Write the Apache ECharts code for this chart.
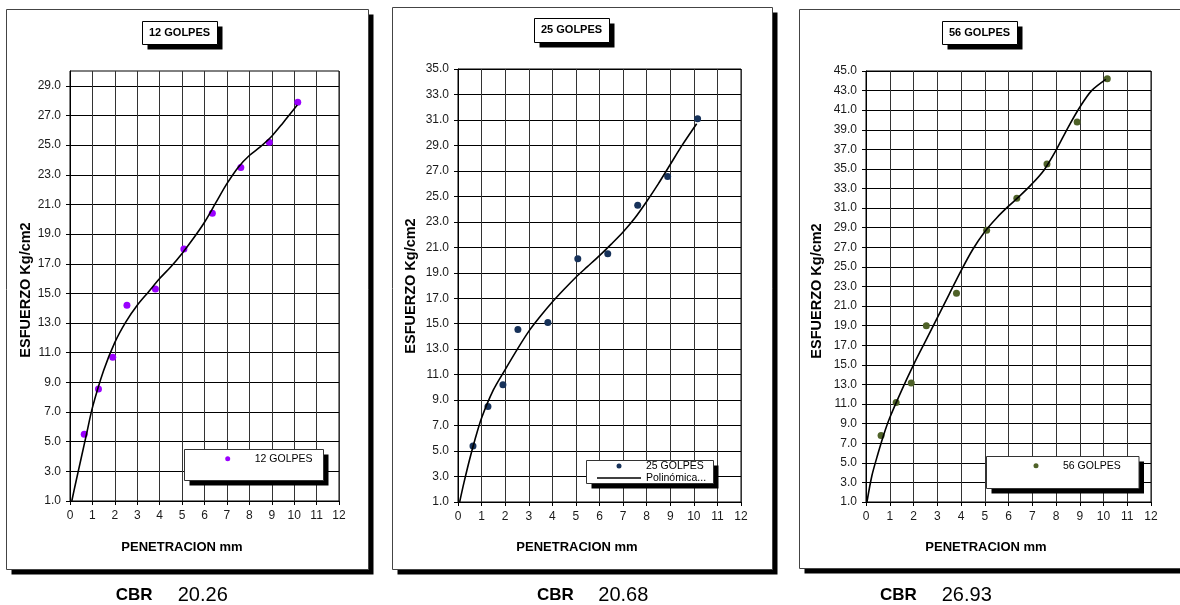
<!DOCTYPE html>
<html>
<head>
<meta charset="utf-8">
<title>CBR - Esfuerzo vs Penetracion</title>
<script src="https://cdn.jsdelivr.net/npm/echarts@6/dist/echarts.min.js"></script>
<style>
  html, body { margin: 0; padding: 0; background: #fff; }
  #chart { width: 1180px; height: 605px; }
</style>
</head>
<body>
<div id="chart"></div>
<script>
// penetracion (mm) de cada lectura
const penetracion = [0.635, 1.27, 1.905, 2.54, 3.81, 5.08, 6.35, 7.62, 8.89, 10.16]

// esfuerzo (kg/cm2) por numero de golpes
const esfuerzo12 = [5.5, 8.55, 10.7, 14.2, 15.3, 18.0, 20.4, 23.5, 25.2, 27.9]
const esfuerzo25 = [5.4, 8.5, 10.2, 14.55, 15.1, 20.1, 20.5, 24.3, 26.55, 31.1]
const esfuerzo56 = [7.8, 11.15, 13.15, 19.0, 22.3, 28.75, 32.0, 35.5, 39.8, 44.2]

// linea de tendencia polinomica
const curva12X = [0.08, 0.25, 0.5, 0.75, 1.0, 1.5, 2.0, 2.5, 3.0, 3.5, 4.0, 4.5, 5.0, 5.5, 6.0, 6.5, 7.0, 7.5, 8.0, 8.5, 9.0, 9.5, 10.14]
const curva12Y = [1.0, 2.2, 3.9, 5.6, 7.3, 9.8, 11.7, 13.1, 14.2, 15.1, 16.0, 16.8, 17.7, 18.7, 19.8, 21.1, 22.4, 23.5, 24.3, 24.9, 25.6, 26.5, 27.7]
const curva25X = [0.07, 0.25, 0.5, 0.75, 1.0, 1.5, 2.0, 2.5, 3.0, 3.5, 4.0, 4.5, 5.0, 5.5, 6.0, 6.5, 7.0, 7.5, 8.0, 8.5, 9.0, 9.5, 10.12]
const curva25Y = [1.0, 2.5, 4.4, 6.1, 7.6, 9.8, 11.4, 12.95, 14.4, 15.6, 16.7, 17.7, 18.65, 19.5, 20.35, 21.25, 22.2, 23.3, 24.6, 26.0, 27.5, 29.0, 30.7]
const curva56X = [0.04, 0.25, 0.5, 0.75, 1.0, 1.5, 2.0, 2.5, 3.0, 3.5, 4.0, 4.5, 5.0, 5.5, 6.0, 6.5, 7.0, 7.5, 8.0, 8.5, 9.0, 9.5, 10.1]
const curva56Y = [1.0, 3.7, 5.9, 7.9, 9.6, 12.4, 15.0, 17.4, 19.8, 22.2, 24.6, 26.8, 28.6, 30.0, 31.2, 32.3, 33.5, 34.9, 36.9, 39.2, 41.3, 43.0, 44.15]

// marcas de los ejes
const ticksY12 = [1, 3, 5, 7, 9, 11, 13, 15, 17, 19, 21, 23, 25, 27, 29]
const ticksY25 = [1, 3, 5, 7, 9, 11, 13, 15, 17, 19, 21, 23, 25, 27, 29, 31, 33, 35]
const ticksY56 = [1, 3, 5, 7, 9, 11, 13, 15, 17, 19, 21, 23, 25, 27, 29, 31, 33, 35, 37, 39, 41, 43, 45]

const valoresCBR = ['20.26', '20.68', '26.93']

const FONT = '"Liberation Sans", Arial, sans-serif'

const chart = echarts.init(document.getElementById('chart'))

function ejeX(i) {
  return {
    gridIndex: i,
    type: 'value',
    min: 0,
    max: 12,
    interval: 1,
    axisLine: { show: true, onZero: false, lineStyle: { color: '#000' } },
    axisTick: { show: true, length: 4, lineStyle: { color: '#000' } },
    axisLabel: { color: '#1a1a1a', fontSize: 12, margin: 9, fontFamily: FONT },
    splitLine: { show: true, lineStyle: { color: '#333', width: 1 } }
  }
}

function ejeY(i, max, ticks) {
  return {
    gridIndex: i,
    type: 'value',
    min: 1,
    max: max,
    axisLine: { show: true, onZero: false, lineStyle: { color: '#000' } },
    axisTick: { show: true, length: 4, customValues: ticks, lineStyle: { color: '#000' } },
    axisLabel: {
      color: '#1a1a1a', fontSize: 12, margin: 9, fontFamily: FONT,
      customValues: ticks,
      formatter: v => v.toFixed(1)
    },
    splitLine: { show: true, lineStyle: { color: '#000', width: 1 } }
  }
}

function puntos(name, ys, i, color) {
  return {
    name: name,
    type: 'scatter',
    xAxisIndex: i,
    yAxisIndex: i,
    symbolSize: 7,
    itemStyle: { color: color, opacity: 1 },
    z: 2,
    data: penetracion.map((x, k) => [x, ys[k]])
  }
}

function tendencia(name, xs, ys, i) {
  return {
    name: name,
    type: 'line',
    xAxisIndex: i,
    yAxisIndex: i,
    smooth: 0.3,
    symbol: 'none',
    lineStyle: { color: '#000', width: 1.6 },
    itemStyle: { color: '#000' },
    z: 3,
    data: xs.map((x, k) => [x, ys[k]])
  }
}

function titulo(text, left, top) {
  return {
    text: text,
    left: left,
    top: top,
    padding: [6, 7],
    textStyle: { fontSize: 11, fontWeight: 'bold', color: '#000', fontFamily: FONT }
  }
}

function leyenda(data, left, top) {
  return {
    data: data,
    left: left,
    top: top,
    orient: 'vertical',
    padding: 0,
    itemGap: 1,
    itemWidth: 44,
    itemHeight: 5,
    selectedMode: false,
    textStyle: { fontSize: 10.5, lineHeight: 11, color: '#000', fontFamily: FONT },
    formatter: name => name.indexOf('Polin') === 0 ? 'Polinómica...' : name
  }
}

// caja blanca con sombra negra desplazada (marcos, titulos, leyendas)
function caja(x, y, w, h, z, stroke) {
  return [
    { type: 'rect', z: z, shape: { x: x + 5, y: y + 5, width: w, height: h }, style: { fill: '#000' } },
    { type: 'rect', z: z, shape: { x: x, y: y, width: w, height: h }, style: { fill: '#fff', stroke: stroke, lineWidth: 1 } }
  ]
}

function texto(text, x, y, font, align, extra) {
  return Object.assign({
    type: 'text',
    z: 5,
    x: x,
    y: y,
    style: { text: text, font: font, fill: '#000', align: align, verticalAlign: 'middle' }
  }, extra || {})
}

const lineaIcono = 'path://M0,0H44V1.6H0Z'

chart.setOption({
  backgroundColor: '#fff',
  animation: false,
  title: [
    titulo('12 GOLPES', 142, 21),
    titulo('25 GOLPES', 534, 18),
    titulo('56 GOLPES', 942, 21)
  ],
  legend: [
    leyenda([{ name: '12 GOLPES', icon: 'circle' }], 225.2, 453.2),
    leyenda([{ name: '25 GOLPES', icon: 'circle' }, { name: 'Polinómica (25 GOLPES)', icon: lineaIcono }], 597, 460.5),
    leyenda([{ name: '56 GOLPES', icon: 'circle' }], 1033.5, 460.2)
  ],
  grid: [
    { left: 70, top: 71, width: 269, height: 430, show: true, borderColor: '#000', borderWidth: 1, backgroundColor: 'transparent' },
    { left: 458, top: 69, width: 283, height: 433, show: true, borderColor: '#000', borderWidth: 1, backgroundColor: 'transparent' },
    { left: 866, top: 71, width: 285, height: 431, show: true, borderColor: '#000', borderWidth: 1, backgroundColor: 'transparent' }
  ],
  xAxis: [ejeX(0), ejeX(1), ejeX(2)],
  yAxis: [ejeY(0, 30, ticksY12), ejeY(1, 35, ticksY25), ejeY(2, 45, ticksY56)],
  series: [
    puntos('12 GOLPES', esfuerzo12, 0, '#9a00ff'),
    tendencia('Polinómica (12 GOLPES)', curva12X, curva12Y, 0),
    puntos('25 GOLPES', esfuerzo25, 1, '#17325a'),
    tendencia('Polinómica (25 GOLPES)', curva25X, curva25Y, 1),
    puntos('56 GOLPES', esfuerzo56, 2, '#4f6228'),
    tendencia('Polinómica (56 GOLPES)', curva56X, curva56Y, 2)
  ],
  graphic: [].concat(
    // marcos de cada grafico
    caja(6.5, 9.5, 362, 560, -10, '#444'),
    caja(392.5, 7.5, 380, 562, -10, '#444'),
    caja(799.5, 9.5, 400, 559, -10, '#444'),
    // cajas de titulo
    caja(142.5, 21.5, 75, 23, 1, '#000'),
    caja(534.5, 18.5, 75, 24, 1, '#000'),
    caja(942.5, 21.5, 75, 23, 1, '#000'),
    // cajas de leyenda
    caja(184.5, 449.5, 139, 31, 3, '#333'),
    caja(586.5, 460.5, 127, 23, 3, '#333'),
    caja(986.5, 456.5, 152.5, 32, 3, '#333'),
    [
      texto('ESFUERZO Kg/cm2', 26, 290, 'bold 14.5px ' + FONT, 'center', { rotation: Math.PI / 2 }),
      texto('ESFUERZO Kg/cm2', 410.5, 286, 'bold 14.5px ' + FONT, 'center', { rotation: Math.PI / 2 }),
      texto('ESFUERZO Kg/cm2', 817, 291, 'bold 14.5px ' + FONT, 'center', { rotation: Math.PI / 2 }),
      texto('PENETRACION mm', 182, 547, 'bold 13px ' + FONT, 'center'),
      texto('PENETRACION mm', 577, 547, 'bold 13px ' + FONT, 'center'),
      texto('PENETRACION mm', 986, 547, 'bold 13px ' + FONT, 'center'),
      // CBR de cada ensayo
      texto('CBR', 115.7, 595, 'bold 17px ' + FONT, 'left'),
      texto(valoresCBR[0], 177.7, 595, '20px ' + FONT, 'left'),
      texto('CBR', 537, 595, 'bold 17px ' + FONT, 'left'),
      texto(valoresCBR[1], 598.3, 595, '20px ' + FONT, 'left'),
      texto('CBR', 880, 595, 'bold 17px ' + FONT, 'left'),
      texto(valoresCBR[2], 941.7, 595, '20px ' + FONT, 'left')
    ]
  )
})
</script>
</body>
</html>
